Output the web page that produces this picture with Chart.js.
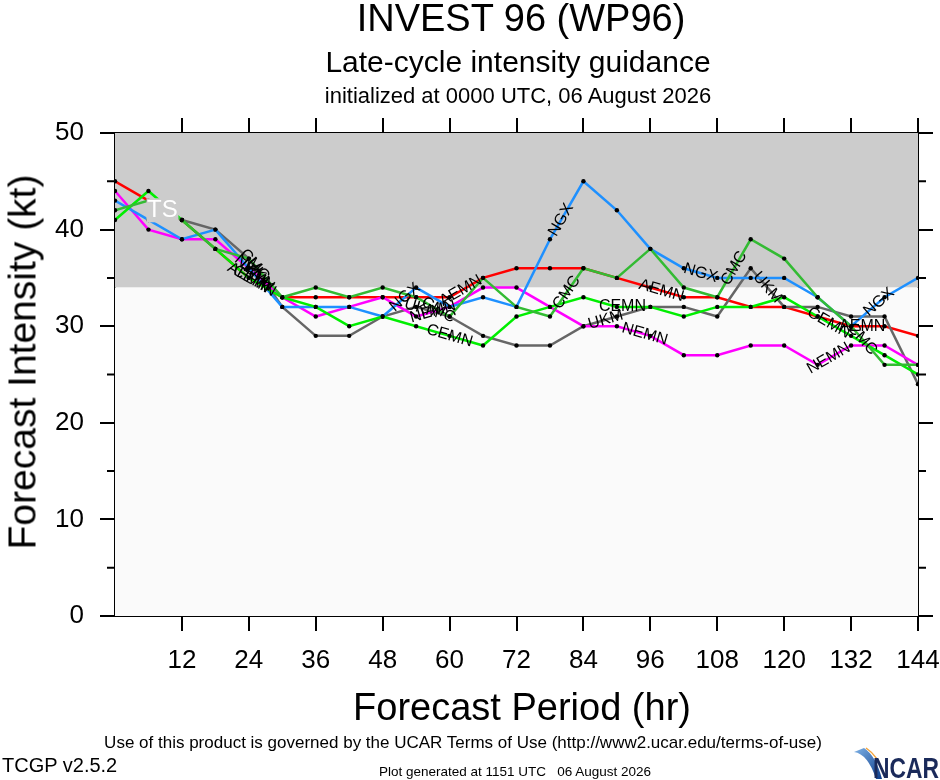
<!DOCTYPE html>
<html>
<head>
<meta charset="utf-8">
<script src="https://cdn.jsdelivr.net/npm/chart.js@4.4.1/dist/chart.umd.min.js"></script>
<style>
  body { margin: 0; background: #fff; font-family: "Liberation Sans", Arial, Helvetica, sans-serif; }
  #wrap { position: relative; width: 940px; height: 780px; overflow: hidden; }
  #c { position: absolute; left: 0; top: 0; }
  .c { position: absolute; transform: translate(-50%, -50%); line-height: 1; white-space: pre; color: #000; }
  .l { position: absolute; line-height: 1; white-space: pre; color: #000; transform: translateY(-50%); }
</style>
</head>
<body>
<div id="wrap">
  <canvas id="c" width="940" height="780"></canvas>
  <div class="c" style="left:521px;top:18px;font-size:38px;">INVEST 96 (WP96)</div>
  <div class="c" style="left:518px;top:62px;font-size:30px;">Late-cycle intensity guidance</div>
  <div class="c" style="left:518px;top:96px;font-size:22px;">initialized at 0000 UTC, 06 August 2026</div>
  <div class="c" style="left:522px;top:707px;font-size:38px;">Forecast Period (hr)</div>
  <div class="c" style="left:22px;top:362px;font-size:39px;transform:translate(-50%,-50%) rotate(-90deg);">Forecast Intensity (kt)</div>
  <div class="c" style="left:463px;top:742px;font-size:17px;">Use of this product is governed by the UCAR Terms of Use (http://www2.ucar.edu/terms-of-use)</div>
  <div class="l" style="left:2px;top:765px;font-size:20px;">TCGP v2.5.2</div>
  <div class="c" style="left:515px;top:772px;font-size:13.5px;">Plot generated at 1151 UTC   06 August 2026</div>
  <svg style="position:absolute;left:852px;top:744px;" width="88" height="36" viewBox="0 0 88 36">
    <defs>
      <linearGradient id="sw" x1="0" y1="0" x2="1" y2="1">
        <stop offset="0" stop-color="#7fb2e6"/>
        <stop offset="1" stop-color="#0b3c8c"/>
      </linearGradient>
    </defs>
    <path d="M2 8 Q16 10 24 35 L30 35 Q24 12 12 4 Z" fill="url(#sw)"/>
    <path d="M14 4 Q26 12 31 28" stroke="#f3a33a" stroke-width="1.5" fill="none"/>
    <text x="21" y="34" font-family="Liberation Sans, Arial" font-weight="bold" font-size="29" textLength="66" lengthAdjust="spacingAndGlyphs" fill="#1a2a5a">NCAR</text>
  </svg>
</div>
<script>
// forecast hours and intensity (kt) per model
const hours = [0, 6, 12, 18, 24, 30, 36, 42, 48, 54, 60, 66, 72, 78, 84, 90, 96, 102, 108, 114, 120, 126, 132, 138, 144];
const aemn = [45, 43, 41, 38, 35, 33, 33, 33, 33, 33, 33, 35, 36, 36, 36, 35, 34, 33, 33, 32, 32, 31, 30, 30, 29];
const cmc  = [42, 43, 41, 38, 37, 33, 34, 33, 34, 33, 31, 35, 32, 31, 36, 35, 38, 34, 33, 39, 37, 33, 30, 26, 26];
const ngx  = [43, 41, 39, 40, 36, 32, 32, 32, 31, 34, 32, 33, 32, 39, 45, 42, 38, 36, 35, 35, 35, 33, 30, 33, 35];
const nemn = [44, 40, 39, 39, 36, 33, 31, 32, 33, 31, 32, 34, 34, 32, 30, 30, 29, 27, 27, 28, 28, 26, 28, 28, 26];
const ukm  = [null, null, 41, 40, 37, 32, 29, 29, 31, 32, 31, 29, 28, 28, 30, 31, 32, 32, 31, 36, 32, 32, 31, 31, 24];
const cemn = [41, 44, 41, 38, 35, 33, 32, 30, 31, 30, 29, 28, 31, 32, 33, 32, 32, 31, 32, 32, 33, 31, 29, 27, 25];

const xTicks = [12, 24, 36, 48, 60, 72, 84, 96, 108, 120, 132, 144];
const yTicks = [0, 10, 20, 30, 40, 50];
const yMinor = [5, 15, 25, 35, 45];
const tsThreshold = 34;

// hours at which each model's name is written along its line
const models = [
  { name: 'CMC',  values: cmc,  color: '#33bb33', labelAt: [25, 58, 81, 111, 134] },
  { name: 'CEMN', values: cemn, color: '#00ee00', labelAt: [25, 60, 91, 128] },
  { name: 'NGX',  values: ngx,  color: '#1e90ff', labelAt: [25, 52, 80, 105, 137] },
  { name: 'NEMN', values: nemn, color: '#ff00ff', labelAt: [25, 57, 95, 128] },
  { name: 'UKM',  values: ukm,  color: '#666666', labelAt: [26, 55, 88, 117] },
  { name: 'AEMN', values: aemn, color: '#ff0000', labelAt: [24, 62, 98, 134] }
];

const FONT = '"Liberation Sans", Arial, Helvetica, sans-serif';

const background = {
  id: 'background',
  beforeDatasetsDraw(chart) {
    const { ctx, chartArea: a, scales: { y } } = chart;
    const ty = y.getPixelForValue(tsThreshold);
    ctx.save();
    ctx.fillStyle = '#cccccc';
    ctx.fillRect(a.left, a.top, a.right - a.left, ty - a.top);
    ctx.fillStyle = '#fafafa';
    ctx.fillRect(a.left, ty, a.right - a.left, a.bottom - ty);
    ctx.restore();
  }
};

const lineLabels = {
  id: 'lineLabels',
  afterDatasetsDraw(chart) {
    const { ctx, scales: { x, y } } = chart;
    ctx.save();
    // TS box
    const tx = x.getPixelForValue(8.5), tyy = y.getPixelForValue(42);
    ctx.fillStyle = '#cccccc';
    ctx.fillRect(tx - 16, tyy - 12, 32, 24);
    ctx.fillStyle = '#ffffff';
    ctx.font = '24px ' + FONT;
    ctx.textAlign = 'center';
    ctx.textBaseline = 'middle';
    ctx.fillText('TS', tx, tyy);

    ctx.font = '16px ' + FONT;
    ctx.fillStyle = '#000';
    models.forEach(m => {
      m.labelAt.forEach(h => {
        let i = 0;
        while (i < hours.length - 2 && hours[i + 1] <= h) i++;
        const a = m.values[i], b = m.values[i + 1];
        if (a == null || b == null) return;
        const t = (h - hours[i]) / (hours[i + 1] - hours[i]);
        const x0 = x.getPixelForValue(hours[i]), y0 = y.getPixelForValue(a);
        const x1 = x.getPixelForValue(hours[i + 1]), y1 = y.getPixelForValue(b);
        const px = x0 + (x1 - x0) * t, py = y0 + (y1 - y0) * t;
        ctx.save();
        ctx.translate(px, py);
        ctx.rotate(Math.atan2(y1 - y0, x1 - x0));
        ctx.fillText(m.name, 0, 0);
        ctx.restore();
      });
    });
    ctx.restore();
  },
  afterDraw(chart) {
    const { ctx, chartArea: a, scales: { y } } = chart;
    ctx.save();
    ctx.strokeStyle = '#000';
    ctx.lineWidth = 2;
    yMinor.forEach(v => {
      const py = y.getPixelForValue(v);
      ctx.beginPath();
      ctx.moveTo(a.left - 8, py); ctx.lineTo(a.left, py);
      ctx.moveTo(a.right, py); ctx.lineTo(a.right + 8, py);
      ctx.stroke();
    });
    ctx.restore();
  }
};

function setTicks(list) {
  return scale => { scale.ticks = list.map(v => ({ value: v })); };
}

const axisGrid = { drawOnChartArea: false, tickLength: 15, color: '#000', lineWidth: 2 };
const axisBorder = { color: '#000', width: 2 };

new Chart(document.getElementById('c'), {
  type: 'line',
  data: {
    datasets: models.map(m => ({
      label: m.name,
      data: hours.map((h, i) => ({ x: h, y: m.values[i] })),
      borderColor: m.color,
      borderWidth: 2.5,
      pointRadius: 2.2,
      pointBackgroundColor: '#000',
      pointBorderWidth: 0,
      spanGaps: false,
      tension: 0,
      fill: false
    }))
  },
  options: {
    responsive: false,
    animation: false,
    layout: { padding: { left: 0, right: 7, top: 118, bottom: 104 } },
    plugins: { legend: { display: false }, tooltip: { enabled: false } },
    scales: {
      x: {
        type: 'linear', position: 'bottom', min: 0, max: 144,
        afterBuildTicks: setTicks(xTicks),
        afterFit: s => { s.height = 60; s.paddingLeft = 0; s.paddingRight = 0; },
        ticks: { color: '#000', font: { size: 26, family: FONT }, padding: 14, maxRotation: 0, autoSkip: false },
        grid: axisGrid, border: axisBorder
      },
      xTop: {
        type: 'linear', position: 'top', min: 0, max: 144,
        afterBuildTicks: setTicks(xTicks),
        afterFit: s => { s.height = 15; s.paddingLeft = 0; s.paddingRight = 0; },
        ticks: { display: false },
        grid: axisGrid, border: axisBorder
      },
      y: {
        type: 'linear', position: 'left', min: 0, max: 50,
        afterBuildTicks: setTicks(yTicks),
        afterFit: s => { s.width = 115; s.paddingTop = 0; s.paddingBottom = 0; },
        ticks: { color: '#000', font: { size: 26, family: FONT }, padding: 16 },
        grid: axisGrid, border: axisBorder
      },
      yRight: {
        type: 'linear', position: 'right', min: 0, max: 50,
        afterBuildTicks: setTicks(yTicks),
        afterFit: s => { s.width = 15; s.paddingTop = 0; s.paddingBottom = 0; },
        ticks: { display: false },
        grid: axisGrid, border: axisBorder
      }
    }
  },
  plugins: [background, lineLabels]
});
</script>
</body>
</html>
